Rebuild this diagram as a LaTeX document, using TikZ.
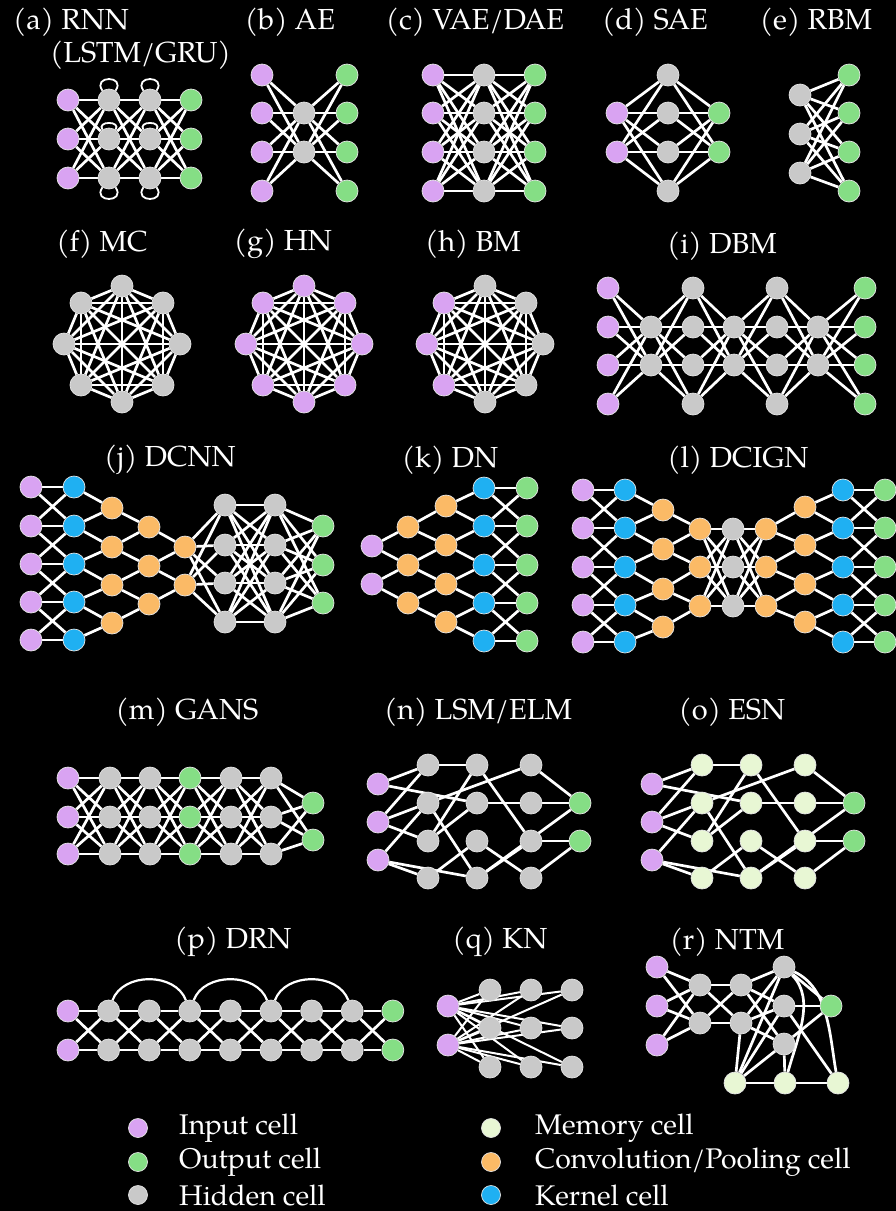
\documentclass[tikz,border=0pt]{standalone}
\usepackage{fontspec}
\setmainfont{TeX Gyre Pagella}
\pgfdeclarelayer{back}
\pgfdeclarelayer{edges}
\pgfsetlayers{back,edges,main}
\definecolor{inpc}{HTML}{D9A3F2}
\definecolor{outc}{HTML}{85DE85}
\definecolor{hidc}{HTML}{C9C9C9}
\definecolor{memc}{HTML}{E8F7D4}
\definecolor{convc}{HTML}{FBBA66}
\definecolor{kerc}{HTML}{1FB0F2}
\tikzset{
  cell/.style={circle,minimum size=22pt,inner sep=0pt,draw=white!90!black,line width=0.7pt},
  inp/.style={cell,fill=inpc},
  outp/.style={cell,fill=outc},
  hid/.style={cell,fill=hidc},
  mem/.style={cell,fill=memc},
  conv/.style={cell,fill=convc},
  kern/.style={cell,fill=kerc},
  conn/.style={draw=white,line width=2.7pt},
  loopline/.style={draw=white,line width=1.8pt},
  ttl/.style={text=white,font=\fontsize{29}{34}\selectfont,inner sep=0pt},
  lgt/.style={text=white,font=\fontsize{28.4}{33}\selectfont,inner sep=0pt,anchor=west},
}
\begin{document}
\begin{tikzpicture}[x=1pt,y=-1pt]
\begin{pgfonlayer}{back}
\fill[black] (0,0) rectangle (896,1211);
\end{pgfonlayer}
\useasboundingbox (0,0) rectangle (896,1211);

% ---------- titles
\node[ttl,anchor=west] (ta) at (13,22) {(a) RNN};
\node[ttl,anchor=west] (ta2) at (50,55) {(LSTM/GRU)};
\node[ttl] (tb) at (290,22) {(b) AE};
\node[ttl] (tc) at (475,22) {(c) VAE/DAE};
\node[ttl] (td) at (655,22) {(d) SAE};
\node[ttl] (te) at (816,22) {(e) RBM};
\node[ttl] (tf) at (102,244) {(f) MC};
\node[ttl] (tg) at (283,244) {(g) HN};
\node[ttl] (th) at (473,244) {(h) BM};
\node[ttl] (ti) at (722,246) {(i) DBM};
\node[ttl] (tj) at (170,460) {(j) DCNN};
\node[ttl] (tk) at (450,460) {(k) DN};
\node[ttl] (tl) at (738,460) {(l) DCIGN};
\node[ttl] (tm) at (187,712) {(m) GANS};
\node[ttl] (tn) at (478,712) {(n) LSM/ELM};
\node[ttl] (to) at (732,712) {(o) ESN};
\node[ttl] (tp) at (233,942) {(p) DRN};
\node[ttl] (tq) at (500,942) {(q) KN};
\node[ttl] (tr) at (727,942) {(r) NTM};

% ---------- (a) RNN
\foreach \i/\y in {1/100,2/139,3/178}{
  \node[inp] (a0\i) at (68,\y) {};
  \node[hid] (a1\i) at (109,\y) {};
  \node[hid] (a2\i) at (150,\y) {};
  \node[outp] (a3\i) at (191,\y) {};
}
\begin{pgfonlayer}{edges}
\foreach \l/\m in {0/1,1/2,2/3}{\foreach \i in {1,2,3}{\foreach \j in {1,2,3}{
  \draw[conn] (a\l\i)--(a\m\j);}}}
\foreach \c in {1,2}{
  \draw[loopline] (a\c1.125) .. controls +(125:19pt) and +(55:19pt) .. (a\c1.55);
  \draw[loopline] (a\c3.235) .. controls +(235:19pt) and +(305:19pt) .. (a\c3.305);
  \draw[loopline] (a\c2.125) .. controls +(125:11pt) and +(55:11pt) .. (a\c2.55);
}
\end{pgfonlayer}

% ---------- (b) AE
\foreach \i/\y in {1/75,2/113,3/152,4/191}{
  \node[inp] (b0\i) at (262,\y) {};
  \node[outp] (b2\i) at (347,\y) {};
}
\node[hid] (b11) at (304,113) {};
\node[hid] (b12) at (304,152) {};
\begin{pgfonlayer}{edges}
\foreach \i in {1,...,4}{\foreach \j in {1,2}{
  \draw[conn] (b0\i)--(b1\j); \draw[conn] (b1\j)--(b2\i);}}
\end{pgfonlayer}

% ---------- (c) VAE/DAE
\foreach \i/\y in {1/75,2/113,3/152,4/191}{
  \node[inp] (c0\i) at (433,\y) {};
  \node[hid] (c1\i) at (484,\y) {};
  \node[outp] (c2\i) at (535,\y) {};
}
\begin{pgfonlayer}{edges}
\foreach \i in {1,...,4}{\foreach \j in {1,...,4}{
  \draw[conn] (c0\i)--(c1\j); \draw[conn] (c1\i)--(c2\j);}}
\end{pgfonlayer}

% ---------- (d) SAE
\foreach \i/\y in {1/75,2/113,3/152,4/191}{\node[hid] (d1\i) at (668,\y) {};}
\foreach \i/\y in {1/113,2/152}{
  \node[inp] (d0\i) at (617,\y) {};
  \node[outp] (d2\i) at (719,\y) {};
}
\begin{pgfonlayer}{edges}
\foreach \i in {1,2}{\foreach \j in {1,...,4}{
  \draw[conn] (d0\i)--(d1\j); \draw[conn] (d1\j)--(d2\i);}}
\end{pgfonlayer}

% ---------- (e) RBM
\foreach \i/\y in {1/95,2/134,3/173}{\node[hid] (e0\i) at (800,\y) {};}
\foreach \i/\y in {1/75,2/113,3/152,4/191}{\node[outp] (e1\i) at (849,\y) {};}
\begin{pgfonlayer}{edges}
\foreach \i in {1,2,3}{\foreach \j in {1,...,4}{\draw[conn] (e0\i)--(e1\j);}}
\end{pgfonlayer}

% ---------- (f) MC, (g) HN, (h) BM
\foreach \k in {0,...,7}{
  \node[hid] (f\k) at ({122+58*cos(45*\k)},{344+58*sin(45*\k)}) {};
  \node[inp] (g\k) at ({304+58*cos(45*\k)},{344+58*sin(45*\k)}) {};
}
\foreach \k/\cc in {0/hidc,1/hidc,2/hidc,3/inpc,4/inpc,5/inpc,6/hidc,7/hidc}{
  \node[cell,fill=\cc] (h\k) at ({485+58*cos(45*\k)},{344+58*sin(45*\k)}) {};
}
\begin{pgfonlayer}{edges}
\foreach \p in {f,g,h}{\foreach \i in {0,...,7}{\foreach \j in {0,...,7}{
  \ifnum\i<\j\relax \draw[conn] (\p\i)--(\p\j);\fi}}}
\end{pgfonlayer}

% ---------- (i) DBM
\foreach \r/\y in {1/288,2/327,3/365,4/404}{
  \node[inp] (i0\r) at (608,\y) {};
  \node[hid] (i2\r) at (693,\y) {};
  \node[hid] (i4\r) at (777,\y) {};
  \node[outp] (i6\r) at (865,\y) {};
}
\foreach \c/\x in {1/651,3/734,5/818}{
  \node[hid] (i\c1) at (\x,327) {};
  \node[hid] (i\c2) at (\x,365) {};
}
\begin{pgfonlayer}{edges}
\foreach \a/\b in {0/1,2/1,2/3,4/3,4/5,6/5}{\foreach \r in {1,...,4}{\foreach \s in {1,2}{
  \draw[conn] (i\a\r)--(i\b\s);}}}
\end{pgfonlayer}

% ---------- (j) DCNN
\foreach \r/\y in {1/487,2/526,3/564,4/602,5/640}{
  \node[inp] (j0\r) at (31,\y) {};
  \node[kern] (j1\r) at (74,\y) {};
}
\foreach \r/\y in {1/508,2/547,3/585,4/623}{\node[conv] (j2\r) at (112,\y) {};}
\foreach \r/\y in {1/527,2/566,3/604}{\node[conv] (j3\r) at (149,\y) {};}
\foreach \r/\y in {1/547,2/585}{\node[conv] (j4\r) at (185,\y) {};}
\foreach \r/\y in {1/505,2/545,3/583,4/622}{
  \node[hid] (j5\r) at (225,\y) {};
  \node[hid] (j6\r) at (275,\y) {};
}
\foreach \r/\y in {1/526,2/565,3/603}{\node[outp] (j7\r) at (323,\y) {};}
\begin{pgfonlayer}{edges}
\foreach \i in {1,...,5}{\foreach \j in {1,...,5}{
  \pgfmathtruncatemacro\dd{abs(\i-\j)}\ifnum\dd<2 \draw[conn] (j0\i)--(j1\j);\fi}}
\foreach \k [evaluate=\k as \kk using int(\k+1)] in {1,...,4}{\draw[conn] (j1\k)--(j2\k); \draw[conn] (j1\kk)--(j2\k);}
\foreach \k [evaluate=\k as \kk using int(\k+1)] in {1,...,3}{\draw[conn] (j2\k)--(j3\k); \draw[conn] (j2\kk)--(j3\k);}
\foreach \k [evaluate=\k as \kk using int(\k+1)] in {1,2}{\draw[conn] (j3\k)--(j4\k); \draw[conn] (j3\kk)--(j4\k);}
\foreach \i in {1,2}{\foreach \j in {1,...,4}{\draw[conn] (j4\i)--(j5\j);}}
\foreach \i in {1,...,4}{\foreach \j in {1,...,4}{\draw[conn] (j5\i)--(j6\j);}}
\foreach \i in {1,...,4}{\foreach \j in {1,2,3}{\draw[conn] (j6\i)--(j7\j);}}
\end{pgfonlayer}

% ---------- (k) DN
\foreach \r/\y in {1/546,2/584}{\node[inp] (k0\r) at (372,\y) {};}
\foreach \r/\y in {1/527,2/565,3/603}{\node[conv] (k1\r) at (408,\y) {};}
\foreach \r/\y in {1/506,2/545,3/584,4/622}{\node[conv] (k2\r) at (446,\y) {};}
\foreach \r/\y in {1/488,2/526,3/565,4/603,5/641}{
  \node[kern] (k3\r) at (484,\y) {};
  \node[outp] (k4\r) at (527,\y) {};
}
\begin{pgfonlayer}{edges}
\foreach \k [evaluate=\k as \kk using int(\k+1)] in {1,2}{\draw[conn] (k0\k)--(k1\k); \draw[conn] (k0\k)--(k1\kk);}
\foreach \k [evaluate=\k as \kk using int(\k+1)] in {1,2,3}{\draw[conn] (k1\k)--(k2\k); \draw[conn] (k1\k)--(k2\kk);}
\foreach \k [evaluate=\k as \kk using int(\k+1)] in {1,...,4}{\draw[conn] (k2\k)--(k3\k); \draw[conn] (k2\k)--(k3\kk);}
\foreach \i in {1,...,5}{\foreach \j in {1,...,5}{
  \pgfmathtruncatemacro\dd{abs(\i-\j)}\ifnum\dd<2 \draw[conn] (k3\i)--(k4\j);\fi}}
\end{pgfonlayer}

% ---------- (l) DCIGN
\foreach \r/\y in {1/490,2/528,3/567,4/605,5/642}{
  \node[inp] (l0\r) at (583,\y) {};
  \node[kern] (l1\r) at (625,\y) {};
  \node[kern] (l7\r) at (843,\y) {};
  \node[outp] (l8\r) at (885,\y) {};
}
\foreach \r/\y in {1/510,2/549,3/589,4/627}{\node[conv] (l2\r) at (663,\y) {};}
\foreach \r/\y in {1/529,2/567,3/606}{
  \node[conv] (l3\r) at (700,\y) {};
  \node[hid] (l4\r) at (733,\y) {};
  \node[conv] (l5\r) at (766,\y) {};
}
\foreach \r/\y in {1/507,2/545,3/584,4/622}{\node[conv] (l6\r) at (805,\y) {};}
\begin{pgfonlayer}{edges}
\foreach \i in {1,...,5}{\foreach \j in {1,...,5}{
  \pgfmathtruncatemacro\dd{abs(\i-\j)}\ifnum\dd<2 \draw[conn] (l0\i)--(l1\j); \draw[conn] (l7\i)--(l8\j);\fi}}
\foreach \k [evaluate=\k as \kk using int(\k+1)] in {1,...,4}{\draw[conn] (l1\k)--(l2\k); \draw[conn] (l1\kk)--(l2\k);
  \draw[conn] (l6\k)--(l7\k); \draw[conn] (l6\k)--(l7\kk);}
\foreach \k [evaluate=\k as \kk using int(\k+1)] in {1,2,3}{\draw[conn] (l2\k)--(l3\k); \draw[conn] (l2\kk)--(l3\k);
  \draw[conn] (l5\k)--(l6\k); \draw[conn] (l5\k)--(l6\kk);}
\foreach \i in {1,2,3}{\foreach \j in {1,2,3}{\draw[conn] (l3\i)--(l4\j); \draw[conn] (l4\i)--(l5\j);}}
\end{pgfonlayer}

% ---------- (m) GANS
\foreach \r/\y in {1/778,2/817,3/854}{
  \node[inp] (m0\r) at (68,\y) {};
  \node[hid] (m1\r) at (110,\y) {};
  \node[hid] (m2\r) at (150,\y) {};
  \node[outp] (m3\r) at (190,\y) {};
  \node[hid] (m4\r) at (231,\y) {};
  \node[hid] (m5\r) at (271,\y) {};
}
\node[outp] (m61) at (313,803) {};
\node[outp] (m62) at (313,840) {};
\begin{pgfonlayer}{edges}
\foreach \a/\b in {0/1,1/2,2/3,3/4,4/5}{\foreach \i in {1,2,3}{\foreach \j in {1,2,3}{\draw[conn] (m\a\i)--(m\b\j);}}}
\foreach \i in {1,2,3}{\foreach \j in {1,2}{\draw[conn] (m5\i)--(m6\j);}}
\end{pgfonlayer}

% ---------- (n) LSM/ELM and (o) ESN
\foreach \p/\dx/\hs in {n/0/hidc,o/274/memc}{
  \foreach \r/\y in {1/784,2/822,3/860}{\node[inp] (\p0\r) at ({378+\dx},\y) {};}
  \foreach \c/\x in {1/428,2/477,3/531}{\foreach \r/\y in {1/765,2/803,3/841,4/878}{
    \node[cell,fill=\hs] (\p\c\r) at ({\x+\dx},\y) {};}}
  \node[outp] (\p41) at ({580+\dx},803) {};
  \node[outp] (\p42) at ({580+\dx},841) {};
  \begin{pgfonlayer}{edges}
  \foreach \a/\b in {01/11,01/22,02/11,02/12,02/13,03/12,03/24,03/14,
      11/21,12/31,12/24,13/21,13/22,14/23,21/33,22/32,23/34,24/33,24/41,
      31/41,32/41,33/42,34/42}{
    \draw[conn] (\p\a)--(\p\b);}
  \end{pgfonlayer}
}

% ---------- (p) DRN
\foreach \c in {0,...,8}{
  \pgfmathsetmacro\xx{68+40.6*\c}
  \ifnum\c=0 \def\cc{inpc}\else\ifnum\c=8 \def\cc{outc}\else\def\cc{hidc}\fi\fi
  \node[cell,fill=\cc] (p\c1) at (\xx,1011) {};
  \node[cell,fill=\cc] (p\c2) at (\xx,1050) {};
}
\begin{pgfonlayer}{edges}
\foreach \a [evaluate=\a as \b using int(\a+1)] in {0,...,7}{\foreach \i in {1,2}{\foreach \j in {1,2}{\draw[conn] (p\a\i)--(p\b\j);}}}
\foreach \a/\b in {1/3,3/5,5/7}{\draw[loopline,line width=2.2pt] (p\a1) to[out=70,in=110,looseness=1.05] (p\b1);}
\end{pgfonlayer}

% ---------- (q) KN
\node[inp] (q01) at (448,1006) {};
\node[inp] (q02) at (448,1045) {};
\foreach \c/\x in {1/490,2/531,3/572}{\foreach \r/\y in {1/990,2/1028,3/1067}{\node[hid] (q\c\r) at (\x,\y) {};}}
\begin{pgfonlayer}{edges}
\foreach \i in {1,2}{\foreach \c in {1,2,3}{\foreach \r in {1,2,3}{\draw[conn,line width=2pt] (q0\i)--(q\c\r);}}}
\end{pgfonlayer}

% ---------- (r) NTM
\foreach \r/\y in {1/967,2/1006,3/1045}{\node[inp] (r0\r) at (657,\y) {};}
\foreach \r/\y in {1/985,2/1023}{\node[hid] (r1\r) at (700,\y) {}; \node[hid] (r2\r) at (741,\y) {};}
\foreach \r/\y in {1/967,2/1006,3/1044}{\node[hid] (r3\r) at (784,\y) {};}
\node[outp] (rg) at (831,1006) {};
\node[mem] (rm1) at (735,1083) {};
\node[mem] (rm2) at (785,1083) {};
\node[mem] (rm3) at (838,1083) {};
\begin{pgfonlayer}{edges}
\foreach \i in {1,2,3}{\foreach \j in {1,2}{\draw[conn] (r0\i)--(r1\j);}}
\foreach \i in {1,2}{\foreach \j in {1,2}{\draw[conn] (r1\i)--(r2\j);}}
\foreach \i in {1,2}{\foreach \j in {1,2,3}{\draw[conn] (r2\i)--(r3\j);}}
\foreach \i in {1,2,3}{\draw[conn] (r3\i)--(rg); \draw[conn] (r3\i)--(rm1);}
\draw[conn] (rm1)--(rm2); \draw[conn] (rm2)--(rm3);
\draw[conn] (r33)--(rm2);
\draw[conn] (r32)--(rm3);
\draw[conn] (r22)--(rm1);
\draw[conn] (r31) to[out=-25,in=100,looseness=0.9] (rm3);
\draw[conn] (r31) to[out=-45,in=75,looseness=0.9] (rm2);
\end{pgfonlayer}

% ---------- legend
\node[inp,minimum size=19pt] (lg1) at (138,1128) {};
\node[outp,minimum size=19pt] (lg2) at (138,1162) {};
\node[hid,minimum size=19pt] (lg3) at (138,1195) {};
\node[mem,minimum size=19pt] (lg4) at (491,1128) {};
\node[conv,minimum size=19pt] (lg5) at (491,1162) {};
\node[kern,minimum size=19pt] (lg6) at (491,1195) {};
\node[lgt] (lt1) at (179,1128) {Input cell};
\node[lgt] (lt2) at (179,1162) {Output cell};
\node[lgt] (lt3) at (179,1195) {Hidden cell};
\node[lgt] (lt4) at (535,1128) {Memory cell};
\node[lgt] (lt5) at (535,1162) {Convolution/Pooling cell};
\node[lgt] (lt6) at (535,1195) {Kernel cell};
\end{tikzpicture}
\end{document}
